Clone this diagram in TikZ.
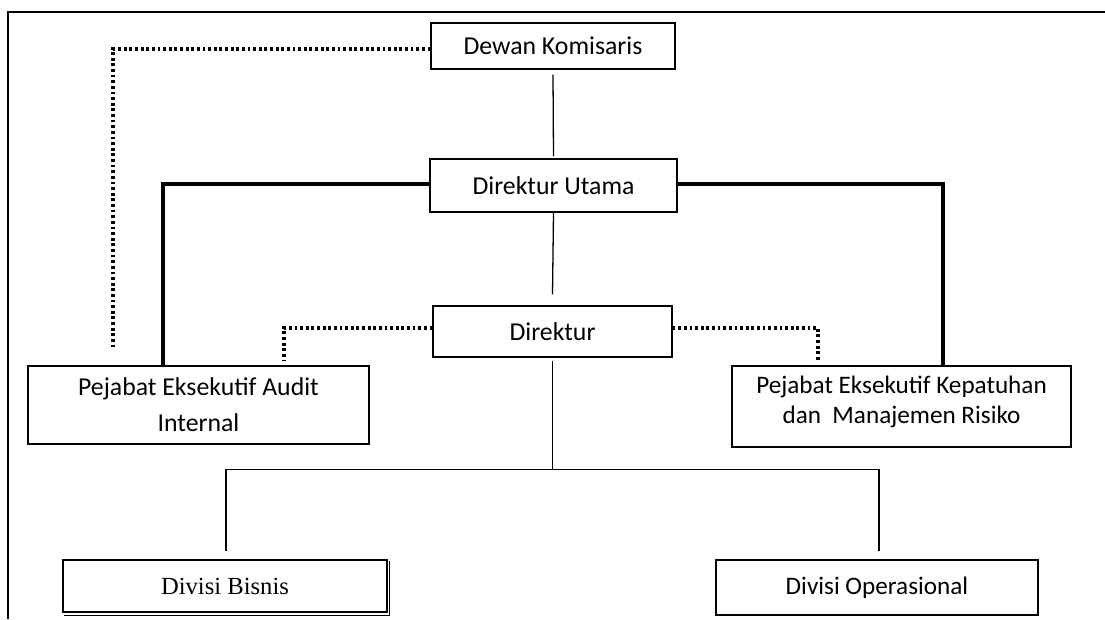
\documentclass[tikz,border=0pt]{standalone}
\usepackage{fontspec}
\setmainfont{Carlito}
\newfontfamily\timesf{Liberation Serif}
\usetikzlibrary{calc}
\tikzset{
  orgbox/.style={draw, line width=1.1pt, inner sep=0pt, fill=white,
    font=\fontsize{22}{26}\selectfont, align=center},
  plainline/.style={line width=1.1pt},
  thickline/.style={line width=3pt},
  dotline/.style={line width=2.8pt, dash pattern=on 2.4pt off 2.4pt},
  frameline/.style={line width=2pt}
}
\begin{document}
\begin{tikzpicture}[x=0.03cm,y=-0.03cm]
\useasboundingbox (0,0) rectangle (1105,619);
\draw[frameline] (8,619) -- (8,12) -- (1105,12);

\node[orgbox, minimum width=244*0.03cm, minimum height=46*0.03cm] (dk) at (553,46) {Dewan Komisaris};
\node[orgbox, minimum width=247*0.03cm, minimum height=53*0.03cm] (du) at (553.5,185.5) {Direktur Utama};
\node[orgbox, minimum width=239*0.03cm, minimum height=51*0.03cm] (dir) at (552.5,331.5) {Direktur};
\node[orgbox, minimum width=341*0.03cm, minimum height=78*0.03cm, font=\fontsize{22}{30.5}\selectfont] (aud) at (198.5,405) {Pejabat Eksekutif Audit\\Internal};
\node[orgbox, minimum width=339*0.03cm, minimum height=81*0.03cm] (kep) at (901.5,406.5) {};
\node[align=center, inner sep=0pt, font=\fontsize{21.5}{25.5}\selectfont] (kept) at ($(kep.center)+(0,-5)$) {Pejabat Eksekutif Kepatuhan\\dan~ Manajemen Risiko};
\node[orgbox, minimum width=324*0.03cm, minimum height=52*0.03cm, font=\timesf\fontsize{21}{25}\selectfont] (bis) at (225,586) {Divisi Bisnis};
\node[orgbox, minimum width=322*0.03cm, minimum height=55*0.03cm, font=\fontsize{21.5}{25}\selectfont] (ops) at (877,587.5) {Divisi Operasional};

% shadow of Divisi Bisnis
\draw[line width=0.9pt] ($(bis.south west)+(1.5,3)$) -- ($(bis.south east)+(1.5,3)$) -- ($(bis.north east)+(1.5,1.5)$);

% solid connectors
\draw[plainline] ($(dk.south)+(0,5)$) -- ($(du.north)+(0,-2)$);
\draw[plainline] (du.south) -- ($(dir.north)+(0,-11)$);
\coordinate (jn) at ($(dir.south)+(0,112)$);
\draw[plainline] ($(dir.south)+(0,3)$) -- (jn);
\draw[plainline] ($(bis.north)+(1,-8)$) |- (jn) -| ($(ops.north)+(2,-8)$);

% thick connectors
\draw[thickline] ($(du.west)+(0,-1.5)$) -| ($(aud.north)+(-35.5,0)$);
\draw[thickline] ($(du.east)+(0,-1.5)$) -| ($(kep.north)+(41.5,0)$);

% dotted connectors
\draw[dotline] ($(dk.west)+(0,3)$) -| ($(aud.north)+(-85.5,-16)$);
\draw[dotline] ($(dir.west)+(0,-3.5)$) -| ($(aud.north)+(85.5,-4)$);
\draw[dotline] ($(dir.east)+(0,-3.5)$) -| ($(kep.north)+(-83.5,-4)$);
\end{tikzpicture}
\end{document}
